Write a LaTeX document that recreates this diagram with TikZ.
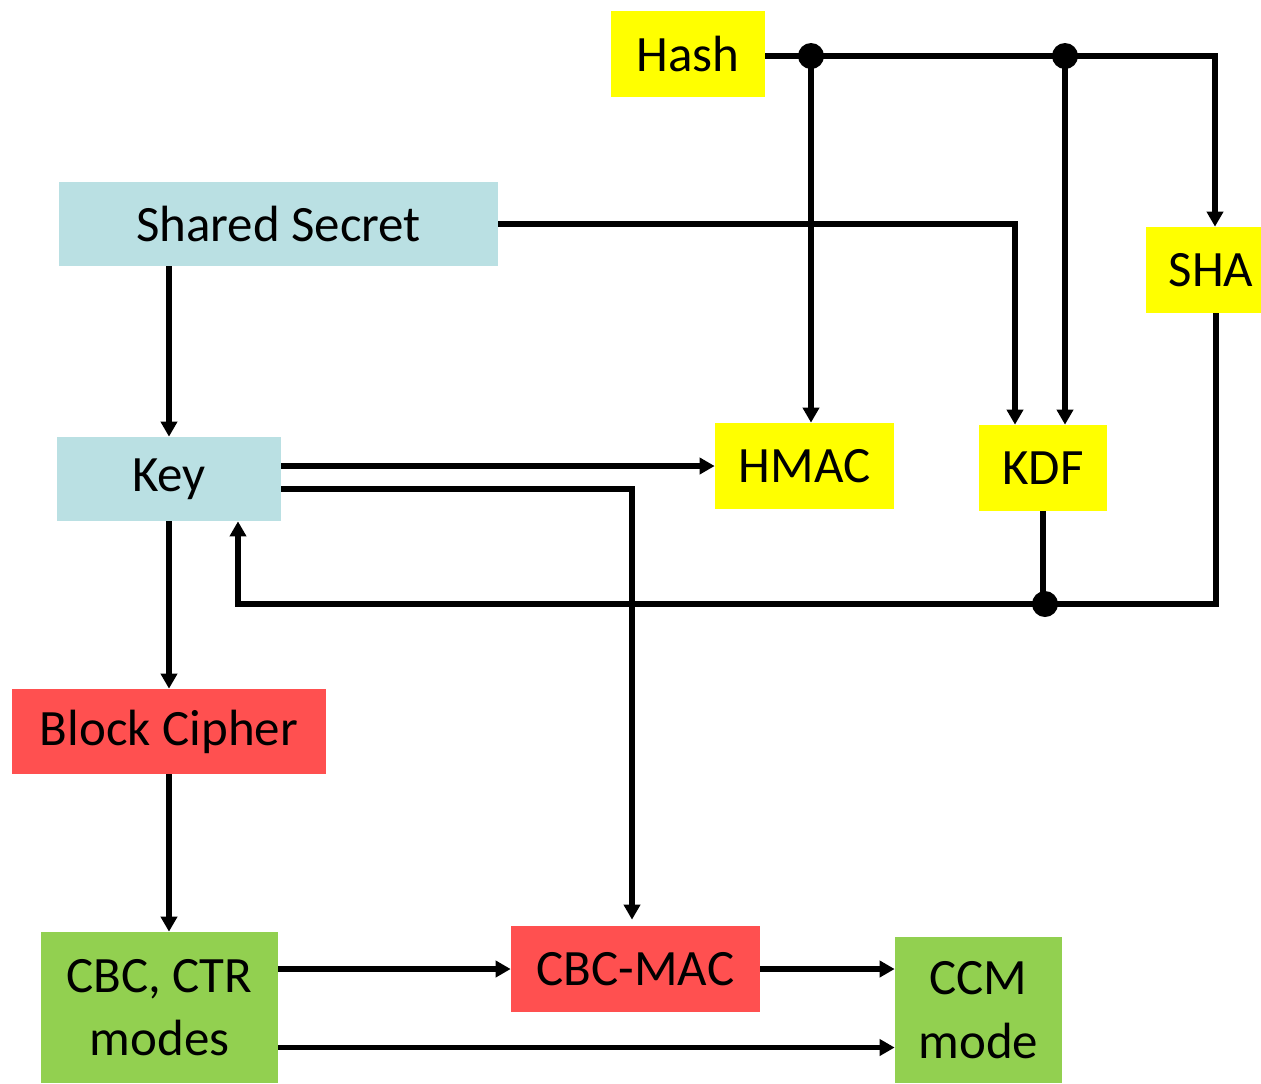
\documentclass[tikz,border=0pt]{standalone}
\usepackage{fontspec}
\setmainfont{Carlito}
\usetikzlibrary{arrows.meta,calc}
\definecolor{keyblue}{RGB}{186,224,227}
\definecolor{hashyellow}{RGB}{255,255,0}
\definecolor{cipherred}{RGB}{255,80,80}
\definecolor{modegreen}{RGB}{146,208,80}
\begin{document}
\begin{tikzpicture}[x=0.02cm,y=-0.02cm,
  blk/.style={draw=none,inner sep=0pt,align=center,
    font=\fontsize{29}{36}\selectfont},
  wire/.style={line width=0.105cm,line join=miter},
  arr/.style={wire,-{Triangle[length=0.3cm,width=0.32cm]}},
  junction/.style={circle,fill=black,inner sep=0pt,minimum size=0.52cm}]
\useasboundingbox (0,0) rectangle (1261,1083);

% blocks
\node[blk,fill=hashyellow,minimum width=3.08cm,minimum height=1.72cm] (Hash) at (688,54) {Hash};
\node[blk,fill=keyblue,minimum width=8.78cm,minimum height=1.68cm] (SS) at (278.5,224) {Shared Secret};
\node[blk,fill=hashyellow,minimum width=2.3cm,minimum height=1.72cm] (SHA) at (1203.5,270) {\hspace{0.3cm}SHA};
\node[blk,fill=hashyellow,minimum width=3.58cm,minimum height=1.72cm] (HMAC) at (804.5,466) {HMAC};
\node[blk,fill=hashyellow,minimum width=2.56cm,minimum height=1.72cm] (KDF) at (1043,468) {KDF};
\node[blk,fill=keyblue,minimum width=4.48cm,minimum height=1.68cm] (Key) at (169,479) {Key};
\node[blk,fill=cipherred,minimum width=6.28cm,minimum height=1.7cm] (BC) at (169,731.5) {Block Cipher};
\node[blk,fill=modegreen,minimum width=4.74cm,minimum height=3.02cm] (CBC) at (159.5,1007.5) {CBC, CTR\\modes};
\node[blk,fill=cipherred,minimum width=4.98cm,minimum height=1.72cm] (MAC) at (635.5,969) {CBC-MAC};
\node[blk,fill=modegreen,minimum width=3.34cm,minimum height=2.92cm] (CCM) at (978.5,1010) {CCM\\mode};

% junction points
\coordinate (j1) at (811,56);
\coordinate (j2) at (1065,56);
\coordinate (j3) at (1045,604);
\coordinate (back) at (238,604);

% hash fan-out
\draw[arr] (Hash.east |- j1) -| ($(SHA.north)+(11.5,0)$);
\draw[arr] (j1) -- (j1 |- HMAC.north);
\draw[arr] (j2) -- (j2 |- KDF.north);

% shared secret
\draw[arr] (SS.east) -| ($(KDF.north)+(-28,0)$);
\draw[arr] (Key.north |- SS.south) -- (Key.north);

% key outputs
\draw[arr] (Key.east |- HMAC.west) -- (HMAC.west);
\draw[arr] ($(Key.east)+(0,10)$) -| ($(MAC.north)+(-3.5,-6)$);
\draw[arr] (Key.south) -- (BC.north);

% feedback from SHA and KDF to key
\draw[arr] ($(SHA.south)+(12.5,0)$) |- (back) -- (back |- Key.south);
\draw[wire] (KDF.south) -- (KDF.south |- j3);

% modes
\draw[arr] (BC.south) -- (BC.south |- CBC.north);
\draw[arr] (CBC.east |- MAC.west) -- (MAC.west);
\draw[arr] (MAC.east) -- (CCM.west |- MAC.east);
\draw[arr] ($(CBC.east)+(0,40)$) -- (CCM.west |- {$(CBC.east)+(0,40)$});

% junction dots
\node[junction] (d1) at (j1) {};
\node[junction] (d2) at (j2) {};
\node[junction] (d3) at (j3) {};
\end{tikzpicture}
\end{document}
